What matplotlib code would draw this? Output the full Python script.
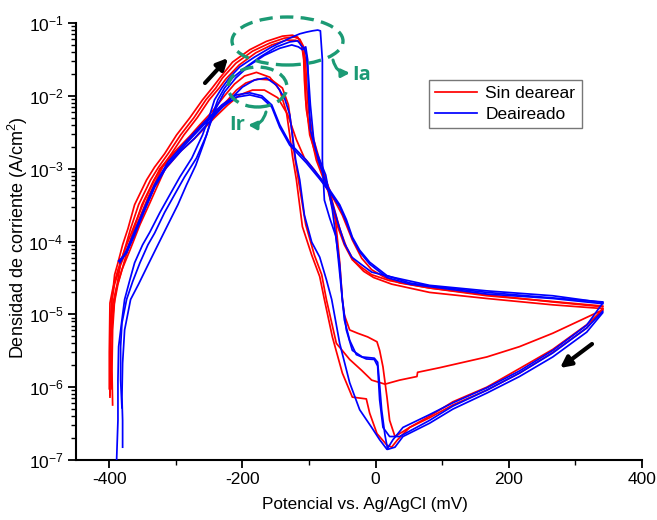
import matplotlib
matplotlib.use("Agg")
import matplotlib.pyplot as plt
from matplotlib.patches import Ellipse
from matplotlib.ticker import LogLocator, NullFormatter, LogFormatterMathtext, MultipleLocator

plt.rcParams['font.family'] = ['Liberation Sans', 'DejaVu Sans']
plt.rcParams['mathtext.fontset'] = 'custom'
plt.rcParams['mathtext.rm'] = 'Liberation Sans'
plt.rcParams['mathtext.it'] = 'Liberation Sans:italic'
plt.rcParams['mathtext.default'] = 'regular'
plt.rcParams['axes.unicode_minus'] = False

# ---------------- data: potential (mV) and current density (A/cm2) ----------------
# Sin dearear (red), cycle 1
red_c1_fwd_E = [-399, -399, -398, -396, -392, -387, -380, -372, -362, -344, -332, -317, -299, -279, -260, -245, -234, -215, -189, -164, -140, -125, -117, -111, -108, -107, -104, -96, -89, -72, -57, -47, -35, -21, -6, 21, 81, 167, 266, 341]
red_c1_fwd_i = [7.3e-7, 2.4e-6, 8.4e-6, 1.6e-5, 3.5e-5, 5.1e-5, 9.0e-5, 1.5e-4, 3.2e-4, 7.0e-4, 1.05e-3, 1.6e-3, 2.9e-3, 5.0e-3, 8.8e-3, 1.3e-2, 1.76e-2, 2.9e-2, 4.3e-2, 5.6e-2, 6.6e-2, 6.8e-2, 6.4e-2, 5.0e-2, 3.1e-2, 1.65e-2, 6.4e-3, 2.5e-3, 1.3e-3, 5.1e-4, 1.6e-4, 9.0e-5, 5.6e-5, 4.4e-5, 3.5e-5, 2.9e-5, 2.3e-5, 1.8e-5, 1.5e-5, 1.3e-5]
red_c1_rev_E = [341, 317, 266, 216, 167, 116, 81, 51, 33, 24, 17, 2, -9, -14, -35, -50, -65, -77, -84, -96, -110, -119, -125, -129, -134, -144, -159, -179, -197, -212, -227, -246, -264, -279, -302, -324, -347, -362, -377, -387, -395, -399, -400, -400]
red_c1_rev_i = [1.2e-5, 6.5e-6, 3.0e-6, 1.56e-6, 9.1e-7, 5.7e-7, 3.8e-7, 2.8e-7, 1.9e-7, 1.5e-7, 1.6e-7, 2.3e-7, 4.4e-7, 6.9e-7, 7.3e-7, 1.56e-6, 4.9e-6, 1.6e-5, 3.3e-5, 6.5e-5, 1.6e-4, 7.0e-4, 1.5e-3, 2.9e-3, 6.0e-3, 1.2e-2, 1.8e-2, 2.1e-2, 1.87e-2, 1.45e-2, 1.0e-2, 6.0e-3, 4.0e-3, 2.8e-3, 1.7e-3, 1.0e-3, 3.7e-4, 1.7e-4, 7.6e-5, 4.1e-5, 2.2e-5, 1.43e-5, 3.0e-6, 9.5e-7]

# Sin dearear (red), cycle 2
red_c2_fwd_E = [-395, -396, -395, -392, -387, -383, -375, -368, -356, -338, -326, -311, -293, -273, -255, -240, -230, -210, -185, -159, -137, -122, -114, -108, -105, -104, -101, -93, -84, -69, -54, -44, -32, -18, -3, 24, 81, 167, 266, 341]
red_c2_fwd_i = [5.7e-7, 1.7e-6, 6.1e-6, 1.6e-5, 3.0e-5, 5.1e-5, 9.0e-5, 1.5e-4, 3.2e-4, 7.0e-4, 1.05e-3, 1.64e-3, 2.9e-3, 5.0e-3, 8.8e-3, 1.28e-2, 1.76e-2, 2.8e-2, 4.1e-2, 5.3e-2, 6.2e-2, 6.4e-2, 6.0e-2, 4.7e-2, 2.9e-2, 1.55e-2, 6.4e-3, 2.5e-3, 1.3e-3, 4.8e-4, 1.5e-4, 8.4e-5, 5.3e-5, 3.9e-5, 3.2e-5, 2.6e-5, 2.0e-5, 1.65e-5, 1.35e-5, 1.2e-5]
red_c2_rev_E = [341, 266, 216, 167, 96, 63, 62, 36, 14, -6, -21, -39, -59, -74, -81, -92, -105, -116, -122, -126, -131, -140, -156, -177, -195, -209, -222, -242, -260, -275, -297, -320, -342, -357, -372, -383, -392, -396, -398, -396]
red_c2_rev_i = [1.15e-5, 5.5e-6, 3.6e-6, 2.6e-6, 1.85e-6, 1.6e-6, 1.4e-6, 1.25e-6, 1.1e-6, 1.25e-6, 1.7e-6, 2.4e-6, 4.0e-6, 1.6e-5, 3.5e-5, 6.5e-5, 1.7e-4, 7.0e-4, 1.55e-3, 3.4e-3, 7.5e-3, 1.28e-2, 1.65e-2, 1.7e-2, 1.5e-2, 1.2e-2, 8.8e-3, 5.8e-3, 4.0e-3, 2.9e-3, 1.8e-3, 1.05e-3, 4.0e-4, 1.85e-4, 8.4e-5, 4.8e-5, 2.6e-5, 1.6e-5, 6.1e-6, 9.5e-7]

# Sin dearear (red), cycle 3
red_c3_fwd_E = [-398, -398, -393, -387, -378, -370, -363, -351, -333, -321, -306, -288, -268, -250, -235, -225, -205, -180, -156, -134, -120, -112, -108, -106, -105, -99, -87, -69, -60, -54, -50, -47, -39, -27, -12, 2, 6, 11, 17, 21, 29, 36, 51, 81, 116, 167, 216, 266, 317, 341]
red_c3_fwd_i = [1.1e-6, 4.4e-6, 1.35e-5, 2.6e-5, 5.1e-5, 9.0e-5, 1.5e-4, 3.2e-4, 7.0e-4, 1.05e-3, 1.64e-3, 2.9e-3, 5.0e-3, 8.8e-3, 1.28e-2, 1.7e-2, 2.65e-2, 3.9e-2, 5.0e-2, 5.8e-2, 5.8e-2, 5.3e-2, 3.6e-2, 1.9e-2, 8.8e-3, 2.9e-3, 1.3e-3, 5.1e-4, 1.85e-4, 5.2e-5, 1.6e-5, 9.8e-6, 6.1e-6, 5.5e-6, 4.9e-6, 4.2e-6, 3.2e-6, 1.9e-6, 7.3e-7, 3.5e-7, 2.1e-7, 2.3e-7, 2.8e-7, 4.0e-7, 6.3e-7, 1.0e-6, 1.8e-6, 3.3e-6, 7.2e-6, 1.15e-5]
red_c3_rev_E = [341, 266, 167, 81, 36, 14, -6, -21, -35, -50, -62, -77, -92, -107, -119, -132, -147, -167, -185, -204, -222, -242, -257, -272, -294, -317, -339, -354, -369, -381, -390, -395, -399, -399]
red_c3_rev_i = [1.27e-5, 1.48e-5, 1.85e-5, 2.3e-5, 2.7e-5, 3.2e-5, 4.1e-5, 5.9e-5, 1.05e-4, 2.3e-4, 3.7e-4, 6.0e-4, 9.6e-4, 1.4e-3, 2.5e-3, 5.5e-3, 9.4e-3, 1.2e-2, 1.2e-2, 1.03e-2, 7.5e-3, 5.0e-3, 3.6e-3, 2.6e-3, 1.7e-3, 9.6e-4, 3.4e-4, 1.7e-4, 7.6e-5, 4.1e-5, 2.2e-5, 1.34e-5, 4.4e-6, 7.7e-7]

# Deaireado (blue), cycle 1
blue_c1_fwd_E = [-389, -387, -387, -386, -381, -377, -369, -362, -350, -339, -324, -309, -294, -276, -260, -249, -242, -231, -219, -204, -182, -156, -129, -114, -104, -95, -87, -83, -80, -80, -80, -77, -69, -60, -54, -50, -44, -35, -20, -2, 3, 6, 9, 14, 18, 29, 41, 81, 116, 167, 216, 266, 317, 341]
blue_c1_fwd_i = [1.0e-7, 3.5e-7, 1.26e-6, 3.6e-6, 8.4e-6, 1.6e-5, 3.0e-5, 5.1e-5, 9.0e-5, 1.35e-4, 2.5e-4, 4.4e-4, 7.7e-4, 1.4e-3, 2.9e-3, 5.5e-3, 8.8e-3, 1.28e-2, 1.8e-2, 2.5e-2, 3.4e-2, 4.7e-2, 6.2e-2, 7.1e-2, 7.5e-2, 7.8e-2, 8.0e-2, 7.8e-2, 3.1e-2, 8.8e-3, 1.3e-3, 3.7e-4, 2.1e-4, 1.2e-4, 4.8e-5, 1.6e-5, 6.1e-6, 3.2e-6, 2.6e-6, 2.5e-6, 2.2e-6, 1.07e-6, 4.9e-7, 2.2e-7, 1.4e-7, 1.5e-7, 2.1e-7, 3.2e-7, 5.0e-7, 8.3e-7, 1.4e-6, 2.6e-6, 5.7e-6, 1.05e-5]
blue_c1_rev_E = [341, 266, 167, 81, 51, 17, -9, -24, -35, -44, -54, -69, -84, -104, -129, -144, -156, -171, -189, -209, -231, -257, -287, -312, -332, -347, -362, -374, -384]
blue_c1_rev_i = [1.48e-5, 1.68e-5, 2.0e-5, 2.45e-5, 2.7e-5, 3.4e-5, 5.2e-5, 7.6e-5, 1.15e-4, 2.0e-4, 3.2e-4, 5.1e-4, 7.7e-4, 1.3e-3, 2.25e-3, 4.0e-3, 7.5e-3, 1.0e-2, 1.1e-2, 1.03e-2, 7.5e-3, 4.4e-3, 2.25e-3, 1.23e-3, 6.0e-4, 2.9e-4, 1.37e-4, 7.6e-5, 5.1e-5]

# Deaireado (blue), cycle 2
blue_c2_fwd_E = [-381, -383, -383, -381, -374, -365, -354, -342, -332, -317, -302, -287, -269, -254, -245, -237, -227, -215, -197, -174, -149, -129, -117, -111, -107, -104, -101, -98, -93, -86, -71, -57, -47, -36, -21, -6, 21, 81, 167, 266, 341]
blue_c2_fwd_i = [5.2e-7, 1.26e-6, 3.6e-6, 7.6e-6, 1.6e-5, 2.8e-5, 5.1e-5, 9.0e-5, 1.3e-4, 2.5e-4, 4.4e-4, 7.7e-4, 1.4e-3, 2.9e-3, 5.5e-3, 8.8e-3, 1.28e-2, 1.76e-2, 2.4e-2, 3.4e-2, 4.7e-2, 5.5e-2, 5.7e-2, 4.8e-2, 4.5e-2, 3.6e-2, 1.9e-2, 7.5e-3, 2.5e-3, 1.3e-3, 5.1e-4, 1.85e-4, 9.5e-5, 6.1e-5, 4.8e-5, 3.8e-5, 3.3e-5, 2.5e-5, 2.1e-5, 1.8e-5, 1.45e-5]
blue_c2_rev_E = [341, 317, 266, 216, 167, 116, 81, 41, 26, 17, 6, -6, -24, -39, -54, -66, -74, -84, -96, -107, -114, -120, -125, -129, -137, -149, -164, -182, -200, -216, -234, -254, -272, -291, -314, -332, -347, -362, -374, -384]
blue_c2_rev_i = [1.43e-5, 7.1e-6, 3.2e-6, 1.67e-6, 9.8e-7, 6.1e-7, 4.2e-7, 2.8e-7, 1.9e-7, 1.4e-7, 1.9e-7, 2.8e-7, 4.9e-7, 1.15e-6, 4.0e-6, 1.6e-5, 3.0e-5, 6.1e-5, 9.8e-5, 2.3e-4, 7.0e-4, 1.3e-3, 2.9e-3, 5.5e-3, 9.4e-3, 1.4e-2, 1.76e-2, 1.65e-2, 1.32e-2, 9.4e-3, 6.4e-3, 4.0e-3, 2.6e-3, 1.8e-3, 1.05e-3, 5.6e-4, 2.7e-4, 1.23e-4, 7.0e-5, 5.3e-5]

# Deaireado (blue), cycle 3
blue_c3_fwd_E = [-380, -380, -381, -380, -377, -368, -356, -342, -327, -312, -297, -284, -270, -258, -249, -239, -227, -210, -189, -167, -144, -126, -116, -110, -105, -102, -101, -98, -90, -75, -65, -59, -53, -47, -39, -29, -14, -2, 3, 6, 11, 21, 36, 81, 116, 167, 216, 266, 317, 341]
blue_c3_fwd_i = [1.5e-7, 3.5e-7, 7.3e-7, 2.15e-6, 6.1e-6, 1.6e-5, 2.6e-5, 4.75e-5, 9.0e-5, 1.7e-4, 3.2e-4, 6.0e-4, 1.12e-3, 2.25e-3, 4.0e-3, 7.0e-3, 1.13e-2, 1.76e-2, 2.65e-2, 3.6e-2, 4.5e-2, 5.0e-2, 4.7e-2, 4.3e-2, 4.7e-2, 3.1e-2, 1.2e-2, 3.4e-3, 1.8e-3, 8.2e-4, 2.7e-4, 1.05e-4, 3.0e-5, 8.4e-6, 4.4e-6, 2.8e-6, 2.44e-6, 2.4e-6, 1.95e-6, 6.7e-7, 2.8e-7, 2.1e-7, 2.1e-7, 3.5e-7, 5.5e-7, 9.1e-7, 1.56e-6, 2.95e-6, 6.5e-6, 1.1e-5]
blue_c3_rev_E = [341, 266, 167, 81, 51, 17, -9, -24, -35, -44, -54, -69, -84, -104, -129, -144, -156, -171, -189, -209, -231, -257, -287, -312, -332, -347, -362, -374, -386]
blue_c3_rev_i = [1.4e-5, 1.65e-5, 1.9e-5, 2.4e-5, 2.6e-5, 3.2e-5, 4.9e-5, 7.2e-5, 1.1e-4, 1.85e-4, 3.0e-4, 4.8e-4, 7.2e-4, 1.2e-3, 2.1e-3, 3.7e-3, 7.0e-3, 9.4e-3, 1.03e-2, 9.6e-3, 7.0e-3, 4.1e-3, 2.1e-3, 1.15e-3, 5.6e-4, 2.7e-4, 1.3e-4, 7.0e-5, 5.4e-5]

series_labels = ["Sin dearear", "Deaireado"]
x_ticks = [-400, -200, 0, 200, 400]

# ---------------- figure ----------------
W, H = 657, 520
fig = plt.figure(figsize=(W / 100, H / 100), dpi=100)
ax = fig.add_axes([76 / W, 1 - 460 / H, (642 - 76) / W, (460 - 23) / H])

RED = '#ff0000'
BLUE = '#0000ff'
LW = 1.25

red_sets = [(red_c1_fwd_E, red_c1_fwd_i), (red_c1_rev_E, red_c1_rev_i),
            (red_c2_fwd_E, red_c2_fwd_i), (red_c2_rev_E, red_c2_rev_i),
            (red_c3_fwd_E, red_c3_fwd_i), (red_c3_rev_E, red_c3_rev_i)]
blue_sets = [(blue_c1_fwd_E, blue_c1_fwd_i), (blue_c1_rev_E, blue_c1_rev_i),
             (blue_c2_fwd_E, blue_c2_fwd_i), (blue_c2_rev_E, blue_c2_rev_i),
             (blue_c3_fwd_E, blue_c3_fwd_i), (blue_c3_rev_E, blue_c3_rev_i)]

for k, (e, i) in enumerate(red_sets):
    ax.plot(e, i, color=RED, lw=LW, label=series_labels[0] if k == 0 else None, zorder=2)
for k, (e, i) in enumerate(blue_sets):
    ax.plot(e, i, color=BLUE, lw=LW, label=series_labels[1] if k == 0 else None, zorder=3)

ax.set_yscale('log')
ax.set_xlim(-450, 400)
ax.set_ylim(1e-7, 1e-1)
ax.set_xticks(x_ticks)
ax.set_xticklabels([str(v) for v in x_ticks])
ax.xaxis.set_minor_locator(MultipleLocator(100))
ax.yaxis.set_major_locator(LogLocator(base=10, numticks=10))
ax.yaxis.set_major_formatter(LogFormatterMathtext())
ax.yaxis.set_minor_locator(LogLocator(base=10, subs=[2, 3, 4, 5, 6, 7, 8, 9], numticks=20))
ax.yaxis.set_minor_formatter(NullFormatter())

for s in ['top', 'right']:
    ax.spines[s].set_visible(False)
for s in ['left', 'bottom']:
    ax.spines[s].set_linewidth(1.5)
ax.tick_params(which='major', direction='out', length=6, width=1.3, labelsize=12.5, pad=3)
ax.tick_params(which='minor', direction='out', length=3.5, width=1.0)

ax.set_xlabel('Potencial vs. Ag/AgCl (mV)', fontsize=12.3)
ax.set_ylabel('Densidad de corriente (A/cm$^2$)', fontsize=13)
ax.xaxis.set_label_coords((365 - 76) / 566, (460 - 497) / 437)
ax.yaxis.set_label_coords((30 - 76) / 566, (460 - 238) / 437)

leg = ax.legend(loc='upper left', bbox_to_anchor=((429 - 76) / 566, (460 - 80) / 437),
                fontsize=12.5, frameon=True, fancybox=False, handlelength=2.4,
                borderpad=0.35, labelspacing=0.3, handletextpad=0.5, borderaxespad=0)
leg.get_frame().set_edgecolor('#555555')
leg.get_frame().set_linewidth(1.0)

# ---------------- annotations ----------------
GREEN = '#1b9a74'

def fp(x, y):
    return (x / W, 1 - y / H)

def ap(x, y):
    return ((x - 76) / 566, (460 - y) / 437)

e1 = Ellipse(ap(287.5, 41), 111 / 566, 48 / 437, transform=ax.transAxes, fill=False,
             edgecolor=GREEN, lw=2.4, linestyle=(0, (4, 2.2)), zorder=5, clip_on=False)
e2 = Ellipse(ap(257.5, 87), 59 / 566, 40 / 437, transform=ax.transAxes, fill=False,
             edgecolor=GREEN, lw=2.4, linestyle=(0, (4, 2.2)), zorder=5, clip_on=False)
ax.add_patch(e1)
ax.add_patch(e2)

ax.annotate('', xy=fp(350, 73), xytext=fp(333, 60), xycoords='figure fraction',
            textcoords='figure fraction',
            arrowprops=dict(arrowstyle='-|>', color=GREEN, lw=2.2, mutation_scale=12,
                            connectionstyle='arc3,rad=0.4', shrinkA=0, shrinkB=0))
fig.text(*fp(362, 75), 'Ia', color=GREEN, fontsize=14.5, fontweight='bold',
         ha='center', va='center', family='Open Sans')

ax.annotate('', xy=fp(248, 125), xytext=fp(266, 112), xycoords='figure fraction',
            textcoords='figure fraction',
            arrowprops=dict(arrowstyle='-|>', color=GREEN, lw=2.2, mutation_scale=12,
                            connectionstyle='arc3,rad=-0.4', shrinkA=0, shrinkB=0))
fig.text(*fp(237, 125), 'Ir', color=GREEN, fontsize=14.5, fontweight='bold',
         ha='center', va='center', family='Open Sans')

ax.annotate('', xy=fp(228, 58), xytext=fp(205, 83), xycoords='figure fraction',
            textcoords='figure fraction',
            arrowprops=dict(arrowstyle='-|>', color='black', lw=3, mutation_scale=16,
                            shrinkA=0, shrinkB=0))
ax.annotate('', xy=fp(560, 368), xytext=fp(592, 344), xycoords='figure fraction',
            textcoords='figure fraction',
            arrowprops=dict(arrowstyle='-|>', color='black', lw=3, mutation_scale=16,
                            shrinkA=0, shrinkB=0))

fig.savefig('out.png', dpi=100)
